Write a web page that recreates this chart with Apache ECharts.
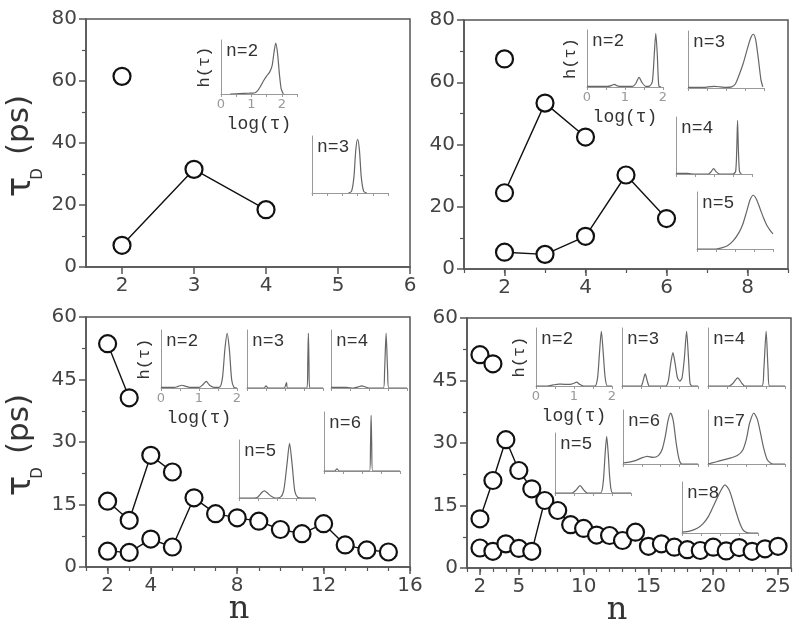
<!DOCTYPE html>
<html>
<head>
<meta charset="utf-8">
<script src="https://cdn.jsdelivr.net/npm/echarts@6/dist/echarts.min.js"></script>
<style>
  html, body { margin: 0; background: #fff; }
  #chart { width: 800px; height: 630px; }
</style>
</head>
<body>
<div id="chart"></div>
<script>
// ---- main panels: tau_D (ps) against n ----
// panel a (top left)
const nA1 = [2]
const tauA1 = [61.5]
const nA2 = [2, 3, 4]
const tauA2 = [7, 31.5, 18.5]
// panel b (top right)
const nB1 = [2]
const tauB1 = [67.5]
const nB2 = [2, 3, 4]
const tauB2 = [24.5, 53.3, 42.4]
const nB3 = [2, 3, 4, 5, 6]
const tauB3 = [5.4, 4.7, 10.5, 30.2, 16.2]
// panel c (bottom left)
const nC1 = [2, 3]
const tauC1 = [53.6, 40.6]
const nC2 = [2, 3, 4, 5]
const tauC2 = [15.8, 11.2, 26.8, 22.8]
const nC3 = [2, 3, 4, 5, 6, 7, 8, 9, 10, 11, 12, 13, 14, 15]
const tauC3 = [3.8, 3.5, 6.7, 4.8, 16.6, 12.8, 11.8, 11, 9, 8, 10.4, 5.3, 4.1, 3.6]
// panel d (bottom right)
const nD1 = [2, 3]
const tauD1 = [51.2, 49]
const nD2 = [2, 3, 4, 5, 6]
const tauD2 = [11.8, 21, 30.8, 23.4, 19]
const nD3 = [2, 3, 4, 5, 6, 7, 8, 9, 10, 11, 12, 13, 14, 15, 16, 17, 18, 19, 20, 21, 22, 23, 24, 25]
const tauD3 = [4.8, 4.0, 5.8, 4.7, 4.0, 16.2, 13.8, 10.4, 9.5, 7.9, 7.8, 6.6, 8.6, 5.2, 5.8, 5.0, 4.4, 4.2, 5.0, 4.1, 4.9, 4.0, 4.6, 5.2]

// tick labels
const xTicksA = [2, 3, 4, 5, 6]
const xTicksB = [2, 4, 6, 8]
const xTicksC = [2, 4, 8, 12, 16]
const xTicksD = [2, 5, 10, 15, 20, 25]
const insetTicks = [0, 1, 2]

// ---- insets: h(tau) against log(tau) ----
const hA2 = [[0.3, 0], [0.6, 0.01], [0.9, 0.015], [1.1, 0.02], [1.2, 0.06], [1.3, 0.15], [1.4, 0.26], [1.5, 0.35], [1.6, 0.43], [1.68, 0.55], [1.74, 0.8], [1.8, 1.0], [1.86, 0.8], [1.92, 0.4], [1.98, 0.1], [2.05, 0]]
const hA3 = [[1.2, 0], [1.3, 0.03], [1.38, 0.3], [1.44, 0.8], [1.5, 1.0], [1.56, 0.8], [1.62, 0.3], [1.7, 0.03], [1.8, 0]]
const hB2 = [[0, 0.01], [0.55, 0.01], [0.65, 0.03], [0.72, 0.05], [0.8, 0.02], [0.9, 0.01], [1.2, 0.01], [1.28, 0.06], [1.37, 0.18], [1.45, 0.08], [1.55, 0.01], [1.65, 0.02], [1.72, 0.1], [1.77, 0.6], [1.81, 1.0], [1.85, 0.6], [1.89, 0.02], [1.95, 0]]
const hB3 = [[0, 0.01], [0.4, 0.01], [0.6, 0.025], [0.7, 0.03], [0.85, 0.02], [1.0, 0.01], [1.15, 0.02], [1.25, 0.08], [1.35, 0.25], [1.45, 0.45], [1.55, 0.7], [1.65, 0.93], [1.72, 1.0], [1.78, 0.9], [1.85, 0.55], [1.92, 0.15], [1.97, 0.02]]
const hB4 = [[0, 0.01], [0.3, 0.01], [0.5, 0], [0.85, 0], [0.92, 0.04], [0.99, 0.1], [1.06, 0.04], [1.15, 0], [1.5, 0], [1.57, 0.05], [1.6, 0.5], [1.62, 1.0], [1.64, 0.5], [1.67, 0.05], [1.72, 0]]
const hB5 = [[0, 0], [0.5, 0], [0.65, 0.02], [0.8, 0.06], [0.95, 0.15], [1.1, 0.3], [1.2, 0.45], [1.3, 0.68], [1.4, 0.92], [1.48, 1.0], [1.56, 0.93], [1.66, 0.75], [1.75, 0.58], [1.83, 0.45], [1.92, 0.35], [2.0, 0.28]]
const hC2 = [[0, 0.01], [0.35, 0.01], [0.45, 0.03], [0.55, 0.05], [0.65, 0.03], [0.8, 0.01], [1.0, 0.01], [1.1, 0.06], [1.19, 0.12], [1.28, 0.05], [1.4, 0.01], [1.55, 0.02], [1.62, 0.2], [1.68, 0.7], [1.74, 1.0], [1.8, 0.7], [1.86, 0.15], [1.92, 0.01], [2.0, 0]]
const hC3 = [[0, 0], [0.45, 0], [0.5, 0.04], [0.56, 0], [0.98, 0], [1.02, 0.06], [1.04, 0.1], [1.07, 0], [1.58, 0], [1.6, 0.5], [1.615, 1.0], [1.63, 0.5], [1.65, 0], [2.0, 0]]
const hC4 = [[0, 0.01], [0.4, 0.01], [0.6, 0], [0.72, 0.02], [0.81, 0.04], [0.9, 0.02], [1.0, 0], [1.38, 0], [1.41, 0.3], [1.45, 1.0], [1.49, 0.3], [1.52, 0], [2.0, 0]]
const hC5 = [[0, 0], [0.4, 0], [0.5, 0.02], [0.6, 0.1], [0.67, 0.13], [0.75, 0.09], [0.85, 0.03], [0.95, 0], [1.1, 0.02], [1.18, 0.15], [1.26, 0.6], [1.33, 1.0], [1.4, 0.6], [1.47, 0.12], [1.55, 0.01], [1.65, 0], [2.0, 0]]
const hC6 = [[0, 0], [0.28, 0], [0.34, 0.04], [0.4, 0], [1.2, 0], [1.225, 0.5], [1.24, 1.0], [1.255, 0.5], [1.28, 0], [2.0, 0]]
const hD2 = [[0, 0], [0.3, 0], [0.45, 0.02], [0.6, 0.035], [0.75, 0.03], [0.9, 0.03], [1.0, 0.05], [1.07, 0.07], [1.15, 0.03], [1.25, 0], [1.55, 0], [1.62, 0.15], [1.67, 0.6], [1.72, 1.0], [1.77, 0.6], [1.82, 0.15], [1.88, 0], [2.0, 0]]
const hD3 = [[0, 0], [0.5, 0], [0.55, 0.08], [0.61, 0.22], [0.67, 0.08], [0.72, 0], [1.15, 0], [1.22, 0.1], [1.28, 0.4], [1.34, 0.61], [1.4, 0.4], [1.46, 0.15], [1.52, 0.09], [1.58, 0.15], [1.64, 0.5], [1.7, 1.0], [1.75, 0.5], [1.79, 0.05], [1.84, 0], [2.0, 0]]
const hD4 = [[0, 0], [0.55, 0], [0.65, 0.05], [0.77, 0.15], [0.88, 0.05], [0.95, 0], [1.4, 0], [1.45, 0.3], [1.51, 1.0], [1.56, 0.3], [1.6, 0], [2.0, 0]]
const hD5 = [[0, 0], [0.45, 0], [0.55, 0.05], [0.66, 0.13], [0.76, 0.05], [0.85, 0], [1.2, 0], [1.27, 0.2], [1.32, 0.7], [1.36, 1.0], [1.4, 0.7], [1.45, 0.2], [1.52, 0], [2.0, 0]]
const hD6 = [[0, 0.02], [0.2, 0.04], [0.35, 0.07], [0.5, 0.12], [0.65, 0.15], [0.8, 0.13], [0.95, 0.17], [1.05, 0.3], [1.13, 0.55], [1.2, 0.85], [1.27, 1.0], [1.34, 0.85], [1.42, 0.4], [1.5, 0.08], [1.57, 0], [2.0, 0]]
const hD7 = [[0, 0], [0.2, 0.04], [0.4, 0.08], [0.6, 0.12], [0.77, 0.17], [0.9, 0.27], [1.0, 0.5], [1.08, 0.8], [1.19, 1.0], [1.28, 0.88], [1.36, 0.62], [1.45, 0.3], [1.53, 0.1], [1.62, 0.02], [1.7, 0], [2.0, 0]]
const hD8 = [[0, 0.02], [0.2, 0.04], [0.4, 0.1], [0.55, 0.19], [0.7, 0.35], [0.85, 0.6], [1.0, 0.85], [1.13, 1.0], [1.25, 0.88], [1.38, 0.55], [1.5, 0.25], [1.6, 0.07], [1.7, 0.01], [1.8, 0], [2.0, 0]]

const AX = '#555'
const INSET = '#999'
const MONO = 'Liberation Mono'

const grids = []
const xAxes = []
const yAxes = []
const series = []
const graphic = []

const zip = (xs, ys) => xs.map((x, i) => [x, ys[i]])

function mainPanel(box, xr, xTicks, minorX, yMax, yStep, lines) {
  const gi = grids.length
  grids.push({
    left: box[0], top: box[1], width: box[2] - box[0], height: box[3] - box[1],
    show: true, borderColor: AX, borderWidth: 1.5, outerBoundsMode: 'none',
  })
  const xi = xAxes.length
  xAxes.push({
    gridIndex: gi, type: 'value', position: 'bottom', min: xr[0], max: xr[1],
    axisLine: { onZero: false, lineStyle: { color: AX, width: 1.5 } },
    axisTick: { customValues: xTicks, length: 7, lineStyle: { color: AX, width: 1.5 } },
    axisLabel: { customValues: xTicks, margin: 9, fontFamily: 'DejaVu Sans', fontSize: 20, color: '#444' },
    splitLine: { show: false },
  })
  if (minorX) {
    xAxes.push({
      gridIndex: gi, type: 'value', position: 'bottom', min: xr[0], max: xr[1], interval: 1,
      axisLine: { show: false },
      axisTick: { length: 4, lineStyle: { color: AX, width: 1.2 } },
      axisLabel: { show: false },
      splitLine: { show: false },
    })
  }
  const yi = yAxes.length
  yAxes.push({
    gridIndex: gi, type: 'value', min: 0, max: yMax, interval: yStep,
    axisLine: { show: true, lineStyle: { color: AX, width: 1.5 } },
    axisTick: { show: true, length: 7, lineStyle: { color: AX, width: 1.5 } },
    minorTick: { show: true, splitNumber: 2, length: 4, lineStyle: { color: AX, width: 1.2 } },
    axisLabel: { margin: 9, fontFamily: 'DejaVu Sans', fontSize: 20, color: '#444' },
    splitLine: { show: false },
  })
  lines.forEach(([ns, vals]) => {
    series.push({
      type: 'line', xAxisIndex: xi, yAxisIndex: yi, data: zip(ns, vals),
      symbol: 'circle', symbolSize: 17, showSymbol: true, z: 5,
      itemStyle: { color: '#fff', borderColor: '#111', borderWidth: 2.2 },
      lineStyle: { color: '#111', width: 1.4 },
      emphasis: { disabled: true },
    })
  })
}

function inset(box, xMax, curve, tag, withText) {
  const gi = grids.length
  grids.push({
    left: box[0], top: box[1], width: box[2] - box[0], height: box[3] - box[1],
    show: false, outerBoundsMode: 'none',
  })
  const xi = xAxes.length
  xAxes.push({
    gridIndex: gi, type: 'value', min: 0, max: xMax, interval: 0.5,
    axisLine: { onZero: false, lineStyle: { color: INSET, width: 1 } },
    axisTick: { length: 3, lineStyle: { color: INSET, width: 1 } },
    axisLabel: withText
      ? { customValues: insetTicks, margin: 4, fontFamily: 'DejaVu Sans', fontSize: 13, color: '#999' }
      : { show: false },
    splitLine: { show: false },
    name: withText ? 'log(τ)' : '',
    nameLocation: 'middle', nameGap: 21,
    nameTextStyle: { fontFamily: MONO, fontSize: 18, color: '#333' },
  })
  const yi = yAxes.length
  yAxes.push({
    gridIndex: gi, type: 'value', min: 0, max: 1.06,
    axisLine: { show: true, lineStyle: { color: INSET, width: 1 } },
    axisTick: { show: false }, axisLabel: { show: false }, splitLine: { show: false },
    name: withText ? 'h(τ)' : '',
    nameLocation: 'middle', nameGap: 8, nameRotate: 90,
    nameTextStyle: { fontFamily: MONO, fontSize: 17, color: '#333' },
  })
  series.push({
    type: 'line', xAxisIndex: xi, yAxisIndex: yi, data: curve,
    showSymbol: false, smooth: 0.25, z: 3,
    lineStyle: { color: '#666', width: 1.2 },
    emphasis: { disabled: true },
  })
  graphic.push({
    type: 'text', x: box[0] + 5, y: box[1] + 2, z: 10,
    style: { text: tag, font: '18px "' + MONO + '"', fill: '#333' },
  })
}

// main frames
mainPanel([86, 19, 410, 267], [1.5, 6], xTicksA, false, 80, 20, [[nA1, tauA1], [nA2, tauA2]])
mainPanel([464, 20, 788, 269], [1, 9], xTicksB, true, 80, 20, [[nB1, tauB1], [nB2, tauB2], [nB3, tauB3]])
mainPanel([86, 317, 410, 567], [1, 16], xTicksC, true, 60, 15, [[nC1, tauC1], [nC2, tauC2], [nC3, tauC3]])
mainPanel([467, 318, 791, 568], [1, 26], xTicksD, true, 60, 15, [[nD1, tauD1], [nD2, tauD2], [nD3, tauD3]])

// insets
inset([221, 40, 297, 94], 2.5, hA2, 'n=2', true)
inset([312, 136, 388, 193], 2.5, hA3, 'n=3', false)
inset([587, 30, 663, 87], 2, hB2, 'n=2', true)
inset([688, 31, 764, 88], 2, hB3, 'n=3', false)
inset([676, 117, 752, 174], 2, hB4, 'n=4', false)
inset([697, 192, 773, 249], 2, hB5, 'n=5', false)
inset([161, 330, 237, 388], 2, hC2, 'n=2', true)
inset([247, 330, 323, 388], 2, hC3, 'n=3', false)
inset([331, 330, 407, 388], 2, hC4, 'n=4', false)
inset([239, 440, 315, 498], 2, hC5, 'n=5', false)
inset([324, 412, 400, 471], 2, hC6, 'n=6', false)
inset([536, 328, 612, 386], 2, hD2, 'n=2', true)
inset([622, 328, 698, 386], 2, hD3, 'n=3', false)
inset([708, 328, 785, 386], 2, hD4, 'n=4', false)
inset([555, 433, 631, 493], 2, hD5, 'n=5', false)
inset([623, 410, 698, 464], 2, hD6, 'n=6', false)
inset([708, 410, 785, 464], 2, hD7, 'n=7', false)
inset([682, 482, 758, 533], 2, hD8, 'n=8', false)

// y titles (tau_D (ps)) and x titles (n)
function yTitle(cy) {
  const rot = Math.PI / 2
  graphic.push(
    { type: 'text', x: 20, y: cy - 18, rotation: rot,
      style: { text: '(ps)', font: '31px "DejaVu Sans"', fill: '#333', align: 'center', verticalAlign: 'middle' } },
    { type: 'text', x: 21, y: cy + 44, rotation: rot,
      style: { text: 'τ', font: '34px "DejaVu Sans"', fill: '#333', align: 'center', verticalAlign: 'middle' } },
    { type: 'text', x: 38, y: cy + 31, rotation: rot,
      style: { text: 'D', font: '15px "DejaVu Sans"', fill: '#333', align: 'center', verticalAlign: 'middle' } },
  )
}
yTitle(143)
yTitle(442)
graphic.push(
  { type: 'text', x: 239, y: 610, style: { text: 'n', font: '32px "DejaVu Serif"', fill: '#333', align: 'center', verticalAlign: 'middle' } },
  { type: 'text', x: 617, y: 611, style: { text: 'n', font: '32px "DejaVu Serif"', fill: '#333', align: 'center', verticalAlign: 'middle' } },
)

const chart = echarts.init(document.getElementById('chart'))
chart.setOption({
  animation: false,
  backgroundColor: '#fff',
  grid: grids,
  xAxis: xAxes,
  yAxis: yAxes,
  series: series,
  graphic: graphic,
})
</script>
</body>
</html>
